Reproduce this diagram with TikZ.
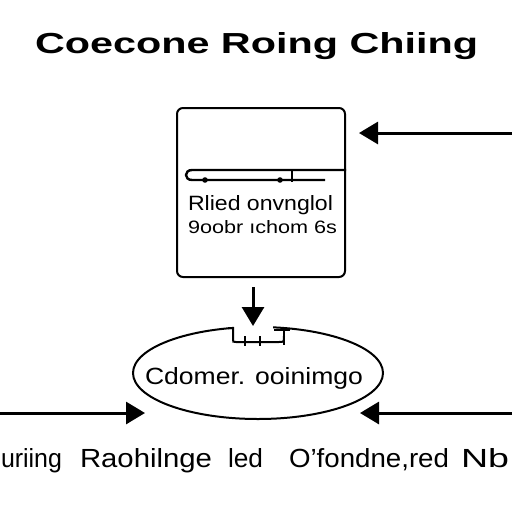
\documentclass[tikz,border=0pt]{standalone}
\usepackage{fontspec}
\setmainfont{Liberation Sans}
\usetikzlibrary{arrows.meta,shapes.geometric}
\newcommand{\fitt}[3]{\resizebox{#1}{#2}{\vphantom{l}#3}}
\begin{document}
\begin{tikzpicture}[x=1pt,y=-1pt,
  lbl/.style={anchor=base west,inner sep=0pt,outer sep=0pt},
  arr/.style={line width=3pt,-{Triangle[length=19pt,width=22pt]}},
  thinline/.style={line width=2pt},
  dotmark/.style={fill=black}]
\useasboundingbox (0,0) rectangle (512,512);
\fill[white] (0,0) rectangle (512,512);

% title
\node[lbl] (title) at (35,53) {\fitt{443pt}{21pt}{\bfseries Coecone Roing Chiing}};

% box
\node[draw, line width=2pt, rounded corners=6pt, minimum width=168pt,
      minimum height=169pt, inner sep=0pt] (box) at (261,192.5) {};
\draw[line width=2.4pt] (box.east |- 0,170) -- (192,170)
   .. controls (184,170) and (184,180) .. (192,180) -- (325,180);
\draw[thinline] (292,170) -- (292,182);
\fill[dotmark] (205,180) circle (2.8pt);
\fill[dotmark] (280,180) circle (2.8pt);
\node[lbl] (r1) at (188,210) {\fitt{145pt}{15pt}{Rlied onvnglol}};
\node[lbl] (r2) at (188,233) {\fitt{149pt}{13pt}{9oobr ıchom 6s}};

% ellipse
\node[draw, ellipse, line width=2pt, minimum width=250pt, minimum height=92pt,
      inner sep=0pt] (ell) at (258,373) {};
\fill[white] (234,320) rectangle (273,334);
\draw[thinline] (228,328) -- (233,328) -- (233,339)
   .. controls (233,342) .. (236,342) -- (279,342)
   .. controls (284,342) .. (284,336);
\draw[thinline] (274,330) -- (290,330);
\draw[thinline] (284,330) -- (284,345);
\draw[thinline] (245,336) -- (245,346);
\draw[thinline] (260,336) -- (260,346);
\node[lbl] (etext) at (145,384) {\fitt{218pt}{17pt}{Cdomer. ooinimgo}};

% arrows
\coordinate (rin) at (515,133);
\coordinate (dtop) at (253,287);
\coordinate (lin) at (-3,413);
\coordinate (ltip) at (145,413);
\coordinate (rin2) at (515,413);
\coordinate (rtip) at (360,413);
\draw[arr, shorten >=13pt] (rin) -- (box.east |- rin);
\draw[arr] (dtop) -- (dtop |- ell.north);
\draw[arr] (lin) -- (ltip);
\draw[arr] (rin2) -- (rtip);

% bottom text
\node[lbl] (b1) at (1,467) {\fitt{61pt}{19pt}{uriing}};
\node[lbl] (b2) at (80,467) {\fitt{132pt}{19pt}{Raohilnge}};
\node[lbl] (b3) at (228,467) {\fitt{35pt}{19pt}{led}};
\node[lbl] (b4) at (289,467) {\fitt{160pt}{19pt}{O’fondne,red}};
\node[lbl] (b5) at (461,467) {\fitt{48pt}{19pt}{Nb}};
\end{tikzpicture}
\end{document}
